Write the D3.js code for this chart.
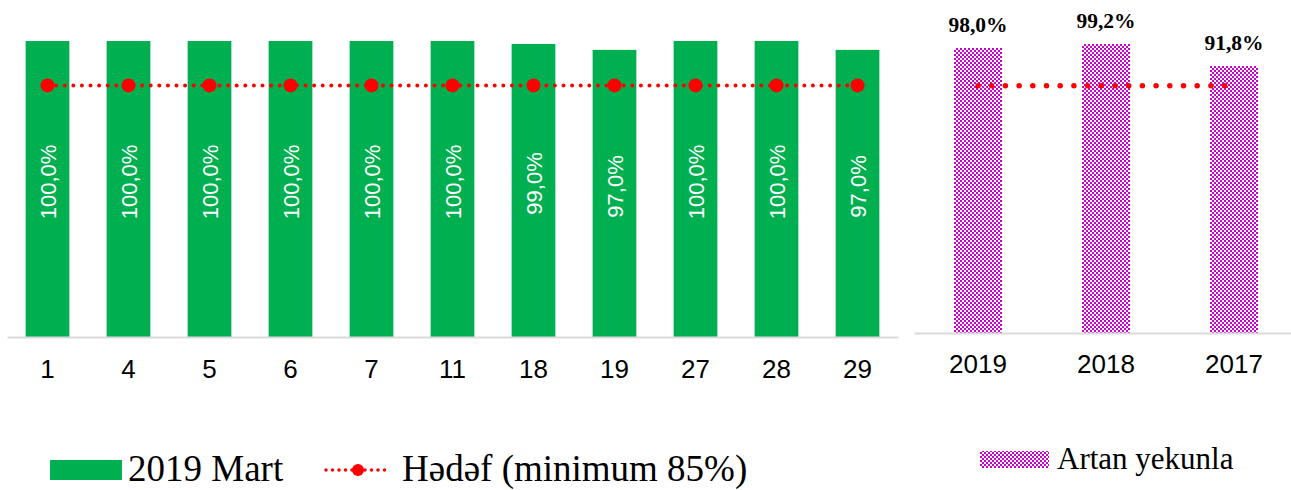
<!DOCTYPE html>
<html>
<head>
<meta charset="utf-8">
<script src="https://cdn.jsdelivr.net/npm/d3@7"></script>
<style>
  body { margin: 0; background: #fff; }
  svg { display: block; }
</style>
</head>
<body>
<div id="chart"></div>
<script>
// left chart: days of March 2019
const days = ["1", "4", "5", "6", "7", "11", "18", "19", "27", "28", "29"];
const march = [1.0, 1.0, 1.0, 1.0, 1.0, 1.0, 0.99, 0.97, 1.0, 1.0, 0.97];
const target = 0.85;
// right chart: cumulative per year
const years = ["2019", "2018", "2017"];
const cumulative = [0.98, 0.992, 0.918];

const width = 1291, height = 490;
const svg = d3.select("#chart").append("svg")
  .attr("width", width).attr("height", height);

const pct = d3.format(".1f");
const fmt = v => pct(v * 100).replace(".", ",") + "%";

// checker pattern for the right bars (2px squares)
const defs = svg.append("defs");
const pat = defs.append("pattern")
  .attr("id", "checker").attr("patternUnits", "userSpaceOnUse")
  .attr("width", 4).attr("height", 4);
pat.append("rect").attr("width", 4).attr("height", 4).attr("fill", "#fff");
pat.append("rect").attr("x", 0).attr("y", 0).attr("width", 2).attr("height", 2)
  .attr("fill", "#CC00CC").attr("shape-rendering", "crispEdges");
pat.append("rect").attr("x", 2).attr("y", 2).attr("width", 2).attr("height", 2)
  .attr("fill", "#CC00CC").attr("shape-rendering", "crispEdges");

// ---- left chart ----
const x1 = d3.scaleBand().domain(days).range([7, 898])
  .paddingInner(0.46).paddingOuter(0.23);
const y1 = d3.scaleLinear().domain([0, 1]).range([337, 41]);

svg.append("g").selectAll("rect").data(march).join("rect")
  .attr("x", (d, i) => x1(days[i]))
  .attr("y", d => y1(d))
  .attr("width", x1.bandwidth())
  .attr("height", d => y1(0) - y1(d))
  .attr("fill", "#00B050");

svg.append("g").selectAll("text").data(march).join("text")
  .attr("transform", (d, i) => `translate(${x1(days[i]) + x1.bandwidth() / 2 + 8},${(y1(d) + y1(0)) / 2 - 7}) rotate(-90)`)
  .attr("text-anchor", "middle")
  .attr("font-family", "Liberation Sans, Arial, sans-serif")
  .attr("font-size", 22)
  .attr("fill", "#fff")
  .text(d => fmt(d));

const xa1 = svg.append("g").attr("transform", `translate(0,${y1(0)})`)
  .call(d3.axisBottom(x1).tickSize(0).tickPadding(23));
xa1.select(".domain").attr("stroke", "#D9D9D9").attr("stroke-width", 2);
xa1.selectAll("text").attr("font-family", "Liberation Sans, Arial, sans-serif")
  .attr("font-size", 26).attr("fill", "#000");

const targetLine = d3.line().x(d => x1(d) + x1.bandwidth() / 2).y(() => y1(target));
svg.append("path").datum(days)
  .attr("d", targetLine)
  .attr("fill", "none").attr("stroke", "#FF0000")
  .attr("stroke-width", 4).attr("stroke-linecap", "round")
  .attr("stroke-dasharray", "0 8.6");
svg.append("g").selectAll("circle").data(days).join("circle")
  .attr("cx", d => x1(d) + x1.bandwidth() / 2)
  .attr("cy", y1(target)).attr("r", 7).attr("fill", "#FF0000");

// ---- right chart ----
const x2 = d3.scaleBand().domain(years).range([914, 1298])
  .paddingInner(0.625).paddingOuter(0.3125);
const y2 = d3.scaleLinear().domain([0, 1]).range([333, 42]);

svg.append("g").selectAll("rect").data(cumulative).join("rect")
  .attr("x", (d, i) => Math.round(x2(years[i])))
  .attr("y", d => Math.round(y2(d)))
  .attr("width", Math.round(x2.bandwidth()))
  .attr("height", d => Math.round(y2(0)) - Math.round(y2(d)))
  .attr("fill", "url(#checker)");

svg.append("g").selectAll("text").data(cumulative).join("text")
  .attr("x", (d, i) => x2(years[i]) + x2.bandwidth() / 2)
  .attr("y", d => y2(d) - 16)
  .attr("text-anchor", "middle")
  .attr("font-family", "Liberation Serif, Times New Roman, serif")
  .attr("font-weight", "bold")
  .attr("font-size", 21.5)
  .text(d => fmt(d));

const xa2 = svg.append("g").attr("transform", `translate(0,${y2(0)})`)
  .call(d3.axisBottom(x2).tickSize(0).tickPadding(22));
xa2.select(".domain").attr("stroke", "#D9D9D9").attr("stroke-width", 2);
xa2.selectAll("text").attr("font-family", "Liberation Sans, Arial, sans-serif")
  .attr("font-size", 26).attr("fill", "#000");

svg.append("line")
  .attr("x1", x2(years[0]) + x2.bandwidth() / 2)
  .attr("x2", x2(years[2]) + x2.bandwidth() / 2 - 8)
  .attr("y1", y2(target)).attr("y2", y2(target))
  .attr("stroke", "#FF0000").attr("stroke-width", 5.5)
  .attr("stroke-linecap", "round").attr("stroke-dasharray", "0 13.7");

// ---- legends ----
const serif = "Liberation Serif, Times New Roman, serif";
svg.append("rect").attr("x", 50).attr("y", 460).attr("width", 72).attr("height", 20).attr("fill", "#00B050");
svg.append("text").attr("x", 128).attr("y", 481)
  .attr("font-family", serif).attr("font-size", 37).text("2019 Mart");
svg.append("line").attr("x1", 326).attr("x2", 390).attr("y1", 470).attr("y2", 470)
  .attr("stroke", "#FF0000").attr("stroke-width", 3.5).attr("stroke-linecap", "round")
  .attr("stroke-dasharray", "0 6.5");
svg.append("circle").attr("cx", 358).attr("cy", 470).attr("r", 6).attr("fill", "#FF0000");
svg.append("text").attr("x", 402).attr("y", 481)
  .attr("font-family", serif).attr("font-size", 37).text("Hədəf (minimum 85%)");

svg.append("rect").attr("x", 980).attr("y", 451).attr("width", 69).attr("height", 17).attr("fill", "url(#checker)");
svg.append("text").attr("x", 1057).attr("y", 469).attr("font-family", serif).attr("font-size", 31).text("Artan yekunla");
</script>
</body>
</html>
